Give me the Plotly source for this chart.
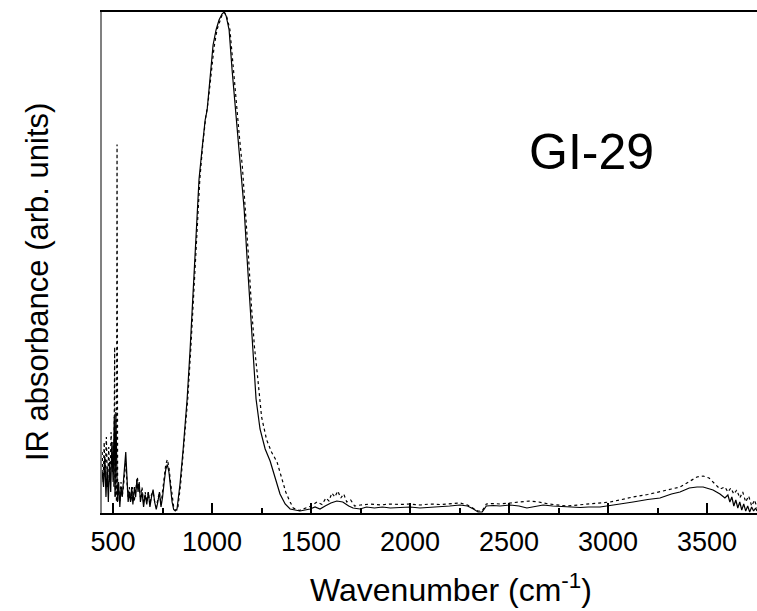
import plotly.graph_objects as go

# ---- data (wavenumber in cm^-1, absorbance in arbitrary units) ----
solid_wn = [445, 452, 458, 464, 470, 476, 482, 488, 494, 500, 506, 510, 514, 518, 522, 528, 534, 540,
            546, 552, 558, 564, 570, 576, 582, 588, 594, 600, 608, 614, 620, 626, 632, 638, 646, 654,
            662, 670, 678, 686, 694, 702, 710, 718, 726, 734, 742, 750, 758, 766, 774, 782, 790, 798,
            806, 814, 823, 838, 854, 874, 889, 904, 919, 934, 949, 965, 975, 990, 1005, 1020, 1035,
            1050, 1061, 1071, 1086, 1101, 1116, 1131, 1146, 1162, 1177, 1192, 1207, 1222, 1242, 1268,
            1293, 1318, 1343, 1369, 1394, 1444, 1470, 1495, 1520, 1545, 1571, 1600, 1630, 1660, 1690,
            1712, 1747, 1780, 1820, 1860, 1900, 1949, 2000, 2050, 2101, 2150, 2200, 2252, 2290, 2320,
            2343, 2364, 2385, 2420, 2454, 2505, 2550, 2590, 2621, 2672, 2720, 2793, 2860, 2900, 2959,
            3010, 3070, 3126, 3200, 3262, 3320, 3363, 3410, 3449, 3480, 3500, 3530, 3565, 3590, 3605,
            3615, 3625, 3635, 3645, 3655, 3665, 3675, 3685, 3695, 3705, 3715, 3725, 3735, 3745, 3752]
solid_abs = [0.08, 0.05, 0.11, 0.03, 0.09, 0.02, 0.10, 0.04, 0.14, 0.06, 0.19, 0.03, 0.20, 0.05, 0.02,
             0.06, 0.01, 0.05, 0.03, 0.06, 0.09, 0.12, 0.07, 0.02, 0.04, 0.02, 0.05, 0.015, 0.05, 0.03,
             0.065, 0.04, 0.06, 0.02, 0.04, 0.01, 0.035, 0.015, 0.04, 0.01, 0.03, 0.045, 0.02, 0.005,
             0.02, 0.04, 0.01, 0.03, 0.06, 0.085, 0.095, 0.08, 0.05, 0.02, 0.005, 0.002, 0.006, 0.056,
             0.126, 0.226, 0.325, 0.445, 0.565, 0.665, 0.725, 0.784, 0.804, 0.874, 0.934, 0.964, 0.984,
             0.996, 1.0, 0.992, 0.964, 0.884, 0.814, 0.745, 0.685, 0.605, 0.505, 0.405, 0.305, 0.226,
             0.166, 0.126, 0.102, 0.070, 0.036, 0.016, 0.006, 0.002, 0.004, 0.006, 0.010, 0.006, 0.012,
             0.018, 0.022, 0.020, 0.012, 0.008, 0.006, 0.010, 0.008, 0.010, 0.008, 0.009, 0.010, 0.008,
             0.009, 0.010, 0.012, 0.014, 0.012, 0.006, 0.0, 0.0, 0.012, 0.013, 0.012, 0.014, 0.012,
             0.008, 0.010, 0.014, 0.012, 0.010, 0.009, 0.010, 0.010, 0.013, 0.016, 0.020, 0.025, 0.028,
             0.036, 0.040, 0.048, 0.050, 0.050, 0.048, 0.044, 0.036, 0.028, 0.034, 0.020, 0.030, 0.012,
             0.024, 0.008, 0.020, 0.004, 0.016, 0.002, 0.012, 0.0, 0.010, 0.002, 0.008, 0.002]

dotted_wn = [445, 450, 455, 460, 466, 472, 478, 484, 490, 496, 500, 504, 508, 511, 514, 517, 520, 523,
             528, 534, 540, 546, 552, 558, 564, 570, 576, 582, 590, 598, 606, 614, 622, 630, 638, 646,
             654, 662, 670, 678, 686, 694, 702, 710, 718, 726, 734, 742, 750, 758, 766, 774, 782, 790,
             798, 806, 814, 826, 841, 857, 877, 893, 908, 923, 938, 953, 968, 980, 995, 1010, 1025,
             1040, 1052, 1061, 1073, 1090, 1106, 1122, 1138, 1153, 1168, 1184, 1199, 1214, 1230, 1250,
             1275, 1300, 1328, 1350, 1372, 1394, 1410, 1440, 1470, 1500, 1530, 1555, 1575, 1590, 1605,
             1620, 1635, 1650, 1665, 1680, 1700, 1720, 1750, 1800, 1850, 1900, 1950, 2000, 2050, 2101,
             2150, 2200, 2252, 2290, 2320, 2343, 2364, 2385, 2420, 2454, 2505, 2550, 2600, 2650, 2700,
             2793, 2850, 2900, 2959, 3010, 3070, 3126, 3200, 3262, 3320, 3363, 3410, 3449, 3480, 3510,
             3540, 3565, 3590, 3605, 3620, 3635, 3650, 3665, 3680, 3695, 3710, 3725, 3740, 3752]
dotted_abs = [0.12, 0.06, 0.14, 0.07, 0.15, 0.05, 0.13, 0.06, 0.16, 0.08, 0.14, 0.05, 0.33, 0.03, 0.12,
              0.02, 0.735, 0.02, 0.05, 0.02, 0.06, 0.03, 0.05, 0.08, 0.10, 0.06, 0.03, 0.05, 0.02, 0.05,
              0.02, 0.04, 0.07, 0.05, 0.03, 0.05, 0.02, 0.04, 0.02, 0.04, 0.015, 0.035, 0.04, 0.02, 0.01,
              0.025, 0.04, 0.015, 0.04, 0.07, 0.095, 0.105, 0.09, 0.06, 0.03, 0.01, 0.004, 0.004, 0.056,
              0.126, 0.226, 0.33, 0.445, 0.565, 0.665, 0.735, 0.79, 0.82, 0.87, 0.93, 0.965, 0.985,
              0.996, 1.0, 0.992, 0.965, 0.89, 0.82, 0.75, 0.69, 0.61, 0.51, 0.41, 0.33, 0.27, 0.19,
              0.145, 0.12, 0.10, 0.07, 0.04, 0.02, 0.008, 0.003, 0.008, 0.012, 0.020, 0.015, 0.028,
              0.022, 0.038, 0.030, 0.042, 0.028, 0.036, 0.020, 0.024, 0.012, 0.014, 0.016, 0.014, 0.016,
              0.015, 0.016, 0.014, 0.016, 0.015, 0.017, 0.018, 0.014, 0.008, 0.002, 0.002, 0.016, 0.017,
              0.016, 0.018, 0.020, 0.022, 0.020, 0.016, 0.012, 0.014, 0.016, 0.018, 0.020, 0.025, 0.030,
              0.035, 0.040, 0.046, 0.050, 0.060, 0.070, 0.072, 0.068, 0.056, 0.046, 0.050, 0.040, 0.048,
              0.036, 0.044, 0.028, 0.040, 0.020, 0.032, 0.012, 0.024, 0.008]

x_ticks = [500, 1000, 1500, 2000, 2500, 3000, 3500]
x_range = [444, 3752]
sample_label = "GI-29"

FONT = "Liberation Sans, Arial, Helvetica, sans-serif"

fig = go.Figure()
fig.add_trace(go.Scatter(x=solid_wn, y=solid_abs, mode="lines",
                         line=dict(color="black", width=1.2), showlegend=False))
fig.add_trace(go.Scatter(x=dotted_wn, y=dotted_abs, mode="lines",
                         line=dict(color="black", width=1.2, dash="dot"), showlegend=False))

fig.update_layout(
    width=757, height=611,
    margin=dict(l=102, r=0, t=12, b=98),
    paper_bgcolor="white", plot_bgcolor="white",
    font=dict(family=FONT, color="black", size=27),
    xaxis=dict(range=x_range, tickvals=x_ticks, ticks="inside", ticklen=10, tickwidth=2,
               tickcolor="black", showline=True, linecolor="black", linewidth=2, mirror=True,
               showgrid=False, zeroline=False, tickfont=dict(size=27, family=FONT),
               ticklabelstandoff=4,
               minor=dict(dtick=250, tick0=500, ticks="inside", ticklen=5, tickwidth=2,
                          tickcolor="black", showgrid=False)),
    yaxis=dict(range=[-0.002, 1.0], showticklabels=False, ticks="", showline=True,
               linecolor="#808080", linewidth=2, showgrid=False, zeroline=False),
    annotations=[
        dict(text="IR absorbance (arb. units)", xref="paper", yref="paper", x=-0.0992, y=0.461,
             textangle=-90, showarrow=False, xanchor="center", yanchor="middle",
             font=dict(size=31, family=FONT)),
        dict(text="Wavenumber (cm<sup>-1</sup>)", xref="paper", yref="paper", x=0.533, y=-0.1497,
             showarrow=False, xanchor="center", yanchor="middle", font=dict(size=32, family=FONT)),
        dict(text=sample_label, xref="paper", yref="paper", x=0.7466, y=0.7206,
             showarrow=False, xanchor="center", yanchor="middle", font=dict(size=50, family=FONT)),
    ],
)

fig.write_html("out.html")
